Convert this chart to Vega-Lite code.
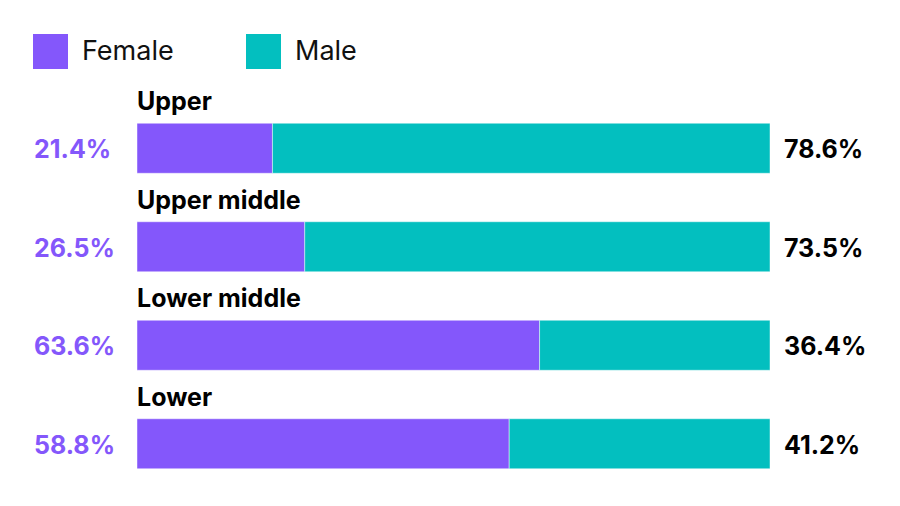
{
  "$schema": "https://vega.github.io/schema/vega-lite/v6.json",
  "autosize": "none",
  "width": 633,
  "height": 394,
  "padding": {"left": 137, "top": 99, "right": 130, "bottom": 13},
  "background": "white",
  "config": {"view": {"stroke": null}, "font": "Inter"},
  "data": {"values": [
    {"category": "Upper", "gender": "Female", "value": 21.4, "order": 1},
    {"category": "Upper", "gender": "Male", "value": 78.6, "order": 2},
    {"category": "Upper middle", "gender": "Female", "value": 26.5, "order": 1},
    {"category": "Upper middle", "gender": "Male", "value": 73.5, "order": 2},
    {"category": "Lower middle", "gender": "Female", "value": 63.6, "order": 1},
    {"category": "Lower middle", "gender": "Male", "value": 36.4, "order": 2},
    {"category": "Lower", "gender": "Female", "value": 58.8, "order": 1},
    {"category": "Lower", "gender": "Male", "value": 41.2, "order": 2}
  ]},
  "transform": [{"calculate": "format(datum.value, '.1f') + '%'", "as": "label"}],
  "encoding": {
    "y": {"field": "category", "type": "nominal", "sort": ["Upper", "Upper middle", "Lower middle", "Lower"],
          "scale": {"paddingInner": 0, "paddingOuter": 0}, "axis": null}
  },
  "layer": [
    {
      "mark": {"type": "bar", "size": 50, "stroke": "white", "strokeOpacity": 0.45, "strokeWidth": 1},
      "encoding": {
        "x": {"field": "value", "type": "quantitative", "stack": "zero", "scale": {"domain": [0, 100]}, "axis": null},
        "order": {"field": "order"},
        "color": {"field": "gender", "type": "nominal",
          "scale": {"domain": ["Female", "Male"], "range": ["#8457FB", "#03BFBF"]},
          "legend": {"title": null, "orient": "none", "legendX": -104, "legendY": -65, "direction": "horizontal",
            "symbolType": "square", "symbolSize": 1225, "symbolStrokeWidth": 0, "symbolOpacity": 1,
            "labelFontSize": 27, "labelColor": "#111", "labelFont": "Inter", "labelOffset": 14,
            "columnPadding": 72, "padding": 0}}
      }
    },
    {
      "transform": [{"filter": "datum.gender == 'Female'"}],
      "mark": {"type": "text", "align": "left", "baseline": "middle", "dy": -46, "fontSize": 25, "fontWeight": "bold", "color": "#000"},
      "encoding": {"x": {"datum": 0, "type": "quantitative"}, "text": {"field": "category"}}
    },
    {
      "transform": [{"filter": "datum.gender == 'Female'"}],
      "mark": {"type": "text", "align": "left", "baseline": "middle", "dx": -103, "dy": 2, "fontSize": 25, "fontWeight": "bold", "color": "#8457FB"},
      "encoding": {"x": {"datum": 0, "type": "quantitative"}, "text": {"field": "label"}}
    },
    {
      "transform": [{"filter": "datum.gender == 'Male'"}],
      "mark": {"type": "text", "align": "left", "baseline": "middle", "dx": 14, "dy": 2, "fontSize": 25, "fontWeight": "bold", "color": "#000"},
      "encoding": {"x": {"datum": 100, "type": "quantitative"}, "text": {"field": "label"}}
    }
  ]
}
